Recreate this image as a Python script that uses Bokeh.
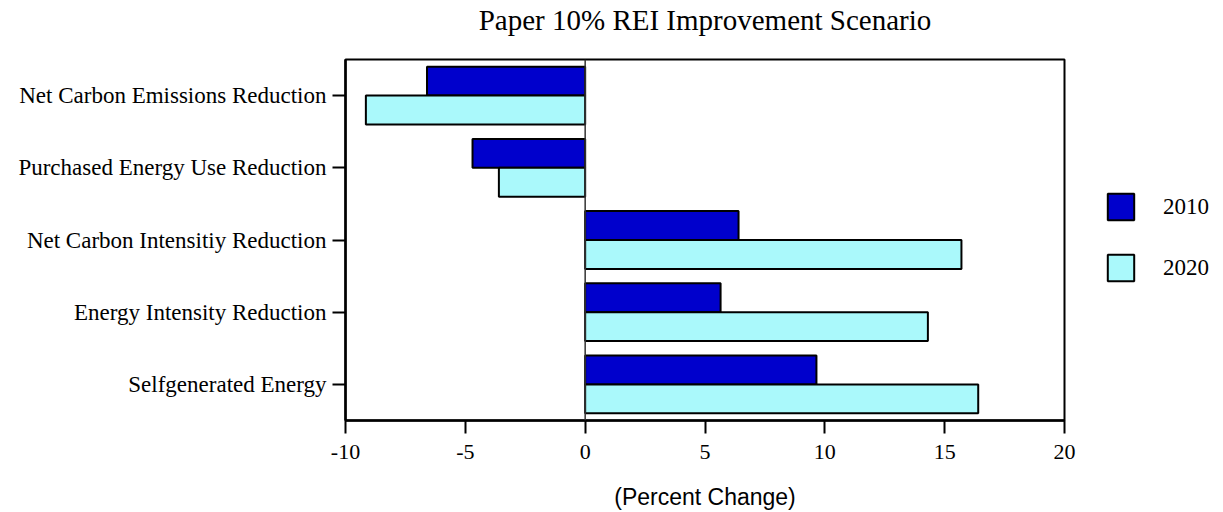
from bokeh.plotting import figure
from bokeh.models import (Range1d, FactorRange, ColumnDataSource, Span, Legend, LegendItem,
                          FixedTicker, LinearAxis)
from bokeh.transform import dodge
from bokeh.embed import file_html
from bokeh.resources import INLINE

title_text = "Paper 10% REI Improvement Scenario"
categories = ["Net Carbon Emissions Reduction", "Purchased Energy Use Reduction",
              "Net Carbon Intensitiy Reduction", "Energy Intensity Reduction",
              "Selfgenerated Energy"]
values_2010 = [-6.6, -4.7, 6.4, 5.65, 9.65]
values_2020 = [-9.15, -3.6, 15.7, 14.3, 16.4]
series_names = ["2010", "2020"]
x_ticks = [-10, -5, 0, 5, 10, 15, 20]
x_tick_labels = ["-10", "-5", "0", "5", "10", "15", "20"]

src = ColumnDataSource(dict(cat=categories, v2010=values_2010, v2020=values_2020))

p = figure(frame_width=719, frame_height=361, output_backend="svg", toolbar_location=None,
           x_range=Range1d(-10, 20), y_range=FactorRange(*reversed(categories), range_padding=0),
           min_border_left=345, min_border_right=140, min_border_top=58, min_border_bottom=77)

# title drawn as the label of a bare axis above the frame
top_axis = LinearAxis(ticker=FixedTicker(ticks=[]), axis_label=title_text)
top_axis.axis_line_color = None
top_axis.major_tick_line_color = None
top_axis.minor_tick_line_color = None
top_axis.major_tick_out = 0
top_axis.major_tick_in = 0
top_axis.major_label_standoff = 0
top_axis.axis_label_text_font = "Liberation Serif"
top_axis.axis_label_text_font_size = "29px"
top_axis.axis_label_text_font_style = "normal"
top_axis.axis_label_text_color = "black"
top_axis.axis_label_standoff = 24
p.add_layout(top_axis, "above")

r1 = p.hbar(y=dodge("cat", 0.2, range=p.y_range), right="v2010", left=0, height=0.4,
            source=src, fill_color="#0000CC", line_color="black", line_width=2)
r2 = p.hbar(y=dodge("cat", -0.2, range=p.y_range), right="v2020", left=0, height=0.4,
            source=src, fill_color="#AAF9FB", line_color="black", line_width=2)

p.add_layout(Span(location=0, dimension="height", line_color="#333333", line_width=1.5))

p.xgrid.visible = False
p.ygrid.visible = False
p.outline_line_color = "black"
p.outline_line_width = 2

xa = p.below[0]
ya = p.left[0]
xa.ticker = FixedTicker(ticks=x_ticks)
xa.major_label_overrides = {t: s for t, s in zip(x_ticks, x_tick_labels)}
for ax in (xa, ya):
    ax.axis_line_width = 2.5
    ax.axis_line_color = "black"
    ax.major_tick_line_width = 2
    ax.major_tick_line_color = "black"
    ax.major_tick_out = 13
    ax.major_tick_in = 0
    ax.minor_tick_line_color = None
    ax.major_label_text_font = "Liberation Serif"
    ax.major_label_text_color = "black"

ya.major_label_text_font_size = "23px"
xa.major_label_text_font_size = "22px"
ya.major_label_standoff = 6
xa.major_label_standoff = 11
xa.axis_label = "(Percent Change)"
xa.axis_label_text_font = "Liberation Sans"
xa.axis_label_text_font_size = "23px"
xa.axis_label_text_font_style = "normal"
xa.axis_label_text_color = "black"
xa.axis_label_standoff = 22

legend = Legend(items=[LegendItem(label=series_names[0], renderers=[r1]),
                       LegendItem(label=series_names[1], renderers=[r2])],
                location=(40, 136), padding=0, margin=0, spacing=28,
                glyph_width=33, glyph_height=33, label_standoff=26,
                label_text_font="Liberation Serif", label_text_font_size="23px",
                label_text_color="black",
                border_line_color=None, background_fill_alpha=0)
p.add_layout(legend, "right")

open("out.html", "w").write(file_html(p, INLINE))
